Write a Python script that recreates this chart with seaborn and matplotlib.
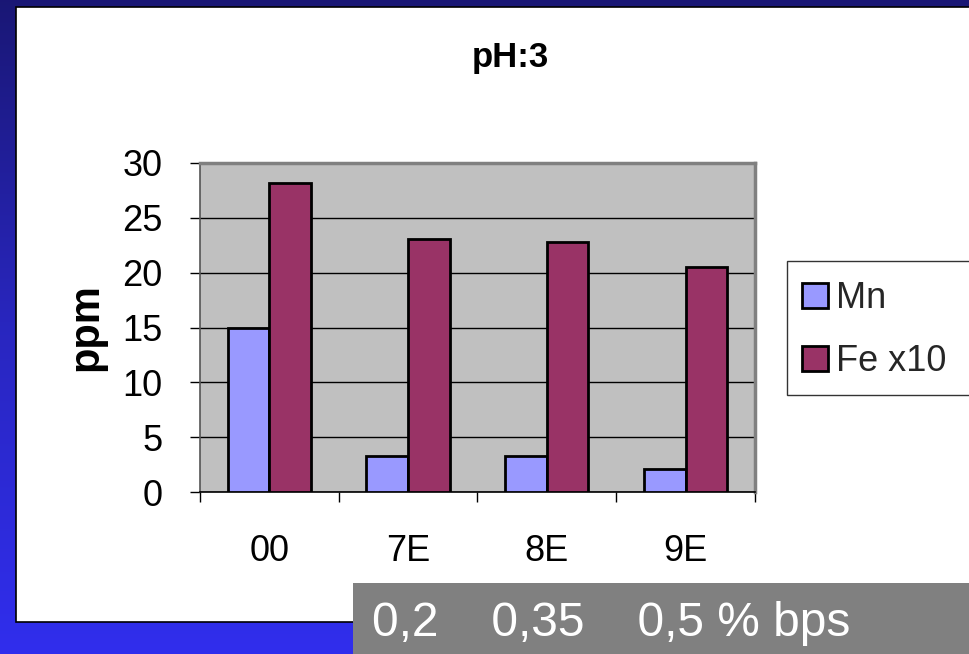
import numpy as np
import pandas as pd
import matplotlib
matplotlib.use("Agg")
import matplotlib.pyplot as plt
import matplotlib.patches as mpatches
from matplotlib.colors import LinearSegmentedColormap
import seaborn as sns

# Data
categories = ["00", "7E", "8E", "9E"]
mn_values = [15.0, 3.3, 3.3, 2.1]
fe_x10_values = [28.2, 23.1, 22.8, 20.5]
series_names = ["Mn", "Fe x10"]
y_ticks = [0, 5, 10, 15, 20, 25, 30]

MN_COLOR = "#9999FF"
FE_COLOR = "#993366"

sns.set_theme(style="white")
plt.rcParams["font.family"] = ["Liberation Sans", "DejaVu Sans"]

W, H = 970, 654
fig = plt.figure(figsize=(W / 100, H / 100), dpi=100)

# Slide background: vertical blue gradient, drawn in pixel coordinates
bg = fig.add_axes([0, 0, 1, 1], zorder=-10)
grad_cmap = LinearSegmentedColormap.from_list(
    "slide", [(0.10, 0.09, 0.46), (0.16, 0.15, 0.75), (0.19, 0.18, 0.93)])
grad = np.linspace(0, 1, 256).reshape(-1, 1)
bg.imshow(grad, cmap=grad_cmap, aspect="auto", extent=[0, W, H, 0])
bg.set_xlim(0, W)
bg.set_ylim(H, 0)
bg.axis("off")

# White chart panel
bg.add_patch(mpatches.Rectangle((16, 7), W + 10, 615, facecolor="white",
                                edgecolor="black", linewidth=1.2, zorder=2))
# Legend frame
bg.add_patch(mpatches.Rectangle((787, 261), W, 134, facecolor="white",
                                edgecolor="#333333", linewidth=1.0, zorder=3))
# Caption strip
bg.add_patch(mpatches.Rectangle((353, 583), W, 80, facecolor="#808080",
                                edgecolor="none", zorder=4))
bg.text(372, 624, "0,2    0,35    0,5 % bps", color="white", fontsize=34.5,
        ha="left", va="center", zorder=5)

# Title
fig.text(510 / W, 1 - 57 / H, "pH:3", ha="center", va="center",
         fontsize=25, fontweight="bold", color="black")

# Bar chart
ax = fig.add_axes([200 / W, 1 - 492 / H, 555 / W, 329 / H])
df = pd.DataFrame({
    "category": categories * 2,
    "value": mn_values + fe_x10_values,
    "series": [series_names[0]] * len(categories) + [series_names[1]] * len(categories),
})
sns.barplot(data=df, x="category", y="value", hue="series", ax=ax,
            palette=[MN_COLOR, FE_COLOR], width=0.6, gap=0, saturation=1,
            edgecolor="black", linewidth=2.0, legend=False, zorder=3)

ax.set_facecolor("#C0C0C0")
ax.set_xlim(-0.5, len(categories) - 0.5)
ax.set_ylim(0, 30)
ax.set_yticks(y_ticks)
ax.yaxis.grid(True, color="black", linewidth=1.0, zorder=0)
ax.set_axisbelow(True)

for side in ["top", "right"]:
    ax.spines[side].set_color("#808080")
    ax.spines[side].set_linewidth(2.5)
ax.spines["left"].set_color("#555555")
ax.spines["left"].set_linewidth(1.2)
ax.spines["bottom"].set_color("black")
ax.spines["bottom"].set_linewidth(1.2)
for s in ax.spines.values():
    s.set_visible(True)

ax.tick_params(axis="y", which="major", direction="out", length=7, width=1,
               color="black", pad=20, labelsize=26, labelcolor="black", left=True)
ax.tick_params(axis="x", which="major", length=0, pad=30, labelsize=26,
               labelcolor="black", bottom=True)
ax.set_xticks(np.arange(-0.5, len(categories)), minor=True)
ax.tick_params(axis="x", which="minor", direction="out", length=7, width=1,
               color="black", bottom=True)

ax.set_xlabel("")
ax.set_ylabel("ppm", fontsize=30, fontweight="bold", color="black")
ax.yaxis.set_label_coords(-0.168, 0.5)

handles = [mpatches.Patch(facecolor=c, edgecolor="black", linewidth=2.0)
           for c in (MN_COLOR, FE_COLOR)]
leg = ax.legend(handles, series_names, loc="upper left",
                bbox_to_anchor=(802 / W, 1 - 281 / H), bbox_transform=fig.transFigure,
                frameon=False, fontsize=26, handlelength=0.72, handleheight=0.72,
                handletextpad=0.22, labelspacing=0.78, borderpad=0, borderaxespad=0)

fig.savefig("out.png", dpi=100)
